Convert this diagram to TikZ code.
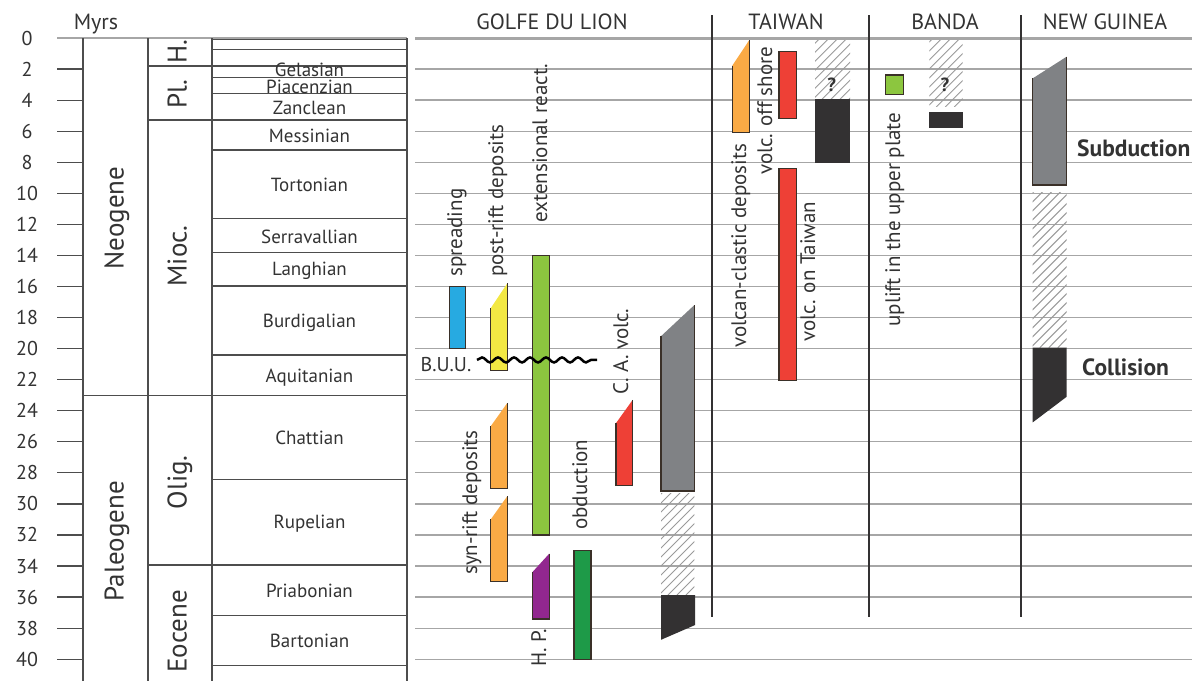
\documentclass[tikz,border=0pt]{standalone}
\usepackage{fontspec}
\setmainfont{PT Sans}
\usetikzlibrary{decorations.pathmorphing}
\definecolor{gridc}{HTML}{A6A6A6}
\definecolor{tabc}{HTML}{4D4D4D}
\definecolor{edgec}{HTML}{3A3028}
\definecolor{bluec}{HTML}{27AAE1}
\definecolor{yellowc}{HTML}{F3E843}
\definecolor{lgreenc}{HTML}{8CC63F}
\definecolor{orangec}{HTML}{FAAA45}
\definecolor{redc}{HTML}{EE4036}
\definecolor{grayc}{HTML}{808285}
\definecolor{darkc}{HTML}{333132}
\definecolor{purplec}{HTML}{92278F}
\definecolor{dgreenc}{HTML}{1E9A48}
\definecolor{hatchc}{HTML}{9A9A9A}
\definecolor{textc}{HTML}{333333}
\newcommand\slantbar[6]{%
  \fill[#1] (#2,#4) -- (#2,#6) -- (#3,#6) -- (#3,#5) -- cycle;
  \draw[barline] (#2,#4) -- (#2,#6) -- (#3,#6) -- (#3,#5);}
\newcommand\hatchbox[4]{%
  \begin{scope}
  \clip (#1,#2) rectangle (#3,#4);
  \foreach \k in {0,...,30} {\draw[hatchline] ({#1-200+9*\k},#4) -- ++(200,-12.88);}
  \end{scope}}
\begin{document}
\begin{tikzpicture}[x=1pt,y=-15.53pt,
  every node/.style={text=textc, inner sep=0pt},
  gridline/.style={draw=gridc, line width=1.3pt},
  tabline/.style={draw=tabc, line width=1.2pt},
  sepline/.style={draw=darkc, line width=2pt},
  barline/.style={draw=edgec, line width=1.4pt, line join=miter},
  hatchline/.style={draw=hatchc, line width=0.9pt},
  num/.style={font=\fontsize{20}{20}\selectfont},
  stage/.style={font=\fontsize{19}{19}\selectfont, text height=13.5pt, text depth=4pt},
  head/.style={font=\fontsize{22}{22}\selectfont},
  epoch/.style={font=\fontsize{27}{27}\selectfont, rotate=90, text height=19pt, text depth=6pt},
  rot/.style={font=\fontsize{21}{21}\selectfont, rotate=90, anchor=west, text height=15pt, text depth=5pt},
  bold/.style={font=\fontsize{23.5}{23.5}\selectfont\bfseries}]
\useasboundingbox (0,-2.447) rectangle (1192,41.341);
\fill[white] (0,-2.447) rectangle (1192,41.341);
% grid
\foreach \t in {2,4,...,40} \draw[gridline] (415,\t) -- (1192,\t);
\draw[gridline, line width=3pt] (415,0) -- (1192,0);
% ticks and numbers
\draw[gridline, line width=2.5pt] (57,0) -- (407,0);
\foreach \t in {2,4,...,40} \draw[tabline] (57,\t) -- (83,\t);
\foreach \t in {0,2,...,40} \node[num] (n\t) at (27,\t) {\t};
\node[head] (myrs) at (96,-0.9) {Myrs};
% table
\foreach \x in {83,148,212,407} \draw[tabline] (\x,0) -- (\x,41.5);
\draw[tabline] (83,23.03) -- (407,23.03);
\foreach \t in {1.8,5.28,33.93} \draw[tabline] (148,\t) -- (407,\t);
\foreach \t in {0.12,0.73,2.56,3.56,7.21,11.61,13.8,15.97,20.41,28.42,37.2,40.42} \draw[tabline] (212,\t) -- (407,\t);
% period / epoch labels
\node[epoch] (neo) at (117,11.6) {Neogene};
\node[epoch] (pal) at (117,32.4) {Paleogene};
\node[epoch] (hol) at (180,0.9) {H.};
\node[epoch] (pli) at (180,3.6) {Pl.};
\node[epoch] (mio) at (180,14.04) {Mioc.};
\node[epoch] (oli) at (180,28.6) {Olig.};
\node[epoch] (eoc) at (180,38.2) {Eocene};
% stages
\node[stage, anchor=base, text depth=0pt] (gel) at (309.5,2.5) {Gelasian};
\node[stage, anchor=base, text height=12.5pt] (pia) at (309.5,3.58) {Piacenzian};
\node[stage] (zan) at (309.5,4.6) {Zanclean};
\node[stage] (mes) at (309.5,6.45) {Messinian};
\node[stage] (tor) at (309.5,9.55) {Tortonian};
\node[stage] (ser) at (309.5,12.9) {Serravallian};
\node[stage] (lan) at (309.5,15.0) {Langhian};
\node[stage] (bur) at (309.5,18.35) {Burdigalian};
\node[stage] (aqu) at (309.5,21.9) {Aquitanian};
\node[stage] (cha) at (309.5,25.85) {Chattian};
\node[stage] (rup) at (309.5,31.3) {Rupelian};
\node[stage] (pri) at (309.5,35.75) {Priabonian};
\node[stage] (bar) at (309.5,38.95) {Bartonian};
% headers and separators
\node[head] (hgl) at (552,-1.03) {GOLFE DU LION};
\node[head] (htw) at (786,-1.03) {TAIWAN};
\node[head] (hbd) at (945,-1.03) {BANDA};
\node[head] (hng) at (1105,-1.03) {NEW GUINEA};
\foreach \x in {712,869,1021} \draw[sepline] (\x,-1.48) -- (\x,37.28);
% Golfe du Lion bars
\filldraw[fill=bluec, barline] (449.3,16) rectangle (465.7,20);
\slantbar{yellowc}{490.7}{507.3}{17.4}{15.8}{21.4}
\filldraw[fill=lgreenc, barline] (532.3,14) rectangle (549.3,32);
\slantbar{orangec}{490.7}{507.3}{25.0}{23.5}{29.0}
\slantbar{orangec}{490.7}{507.3}{31.0}{29.5}{35.0}
\slantbar{purplec}{532.3}{549.3}{34.4}{33.2}{37.4}
\filldraw[fill=dgreenc, barline] (574,33) rectangle (591,40);
\slantbar{redc}{616}{632.7}{24.8}{23.3}{28.8}
\slantbar{grayc}{661}{694.3}{19.2}{17.2}{29.17}
\hatchbox{661}{29.3}{694.3}{35.87}
\fill[darkc] (661,35.87) -- (695,35.87) -- (695,37.8) -- (661,38.75) -- cycle;
\draw[line width=2.5pt, decorate, decoration={snake, segment length=16pt, amplitude=2.5pt}] (477,20.73) -- (597,20.73);
\node[stage, font=\fontsize{20}{20}\selectfont] (buu) at (446,21.15) {B.U.U.};
\node[rot] (lspr) at (457,15.39) {spreading};
\node[rot] (lpost) at (498,15.39) {post-rift deposits};
\node[rot] (lext) at (542,11.91) {extensional react.};
\node[rot] (lca) at (623,22.99) {C. A. volc.};
\node[rot] (lsyn) at (472,34.58) {syn-rift deposits};
\node[rot] (lhp) at (541,40.5) {H. P.};
\node[rot] (lobd) at (582,31.68) {obduction};
% Taiwan
\slantbar{orangec}{732.3}{749.3}{1.78}{0.13}{6.07}
\filldraw[fill=redc, barline] (779,0.88) rectangle (796.7,5.17);
\filldraw[fill=redc, barline] (779,8.39) rectangle (796.7,22.07);
\hatchbox{815}{0.13}{850}{3.95}
\fill[darkc] (815,3.95) rectangle (850,8.07);
\node[bold, font=\fontsize{19}{19}\selectfont\bfseries] (q1) at (831.7,3.03) {?};
\node[rot] (lvcd) at (741,19.96) {volcan-clastic deposits};
\node[rot] (lvos) at (767,8.82) {volc. off shore};
\node[rot] (lvot) at (810,19.57) {volc. on Taiwan};
% Banda
\filldraw[fill=lgreenc, barline] (885.7,2.38) rectangle (903.3,3.63);
\hatchbox{929.3}{0.13}{962.7}{4.44}
\fill[darkc] (929.3,4.75) rectangle (962.7,5.8);
\node[bold, font=\fontsize{19}{19}\selectfont\bfseries] (q2) at (945,3.03) {?};
\node[rot] (lupl) at (895,18.6) {uplift in the upper plate};
% New Guinea
\slantbar{grayc}{1032.7}{1066.7}{2.6}{1.2}{9.47}
\hatchbox{1032.7}{9.98}{1066.7}{19.94}
\fill[darkc] (1032.7,19.94) -- (1066.7,19.94) -- (1066.7,23.1) -- (1032.7,24.75) -- cycle;
\node[bold, anchor=west] (sub) at (1077,7.08) {Subduction};
\node[bold, anchor=west] (col) at (1082,21.17) {Collision};
\end{tikzpicture}
\end{document}
